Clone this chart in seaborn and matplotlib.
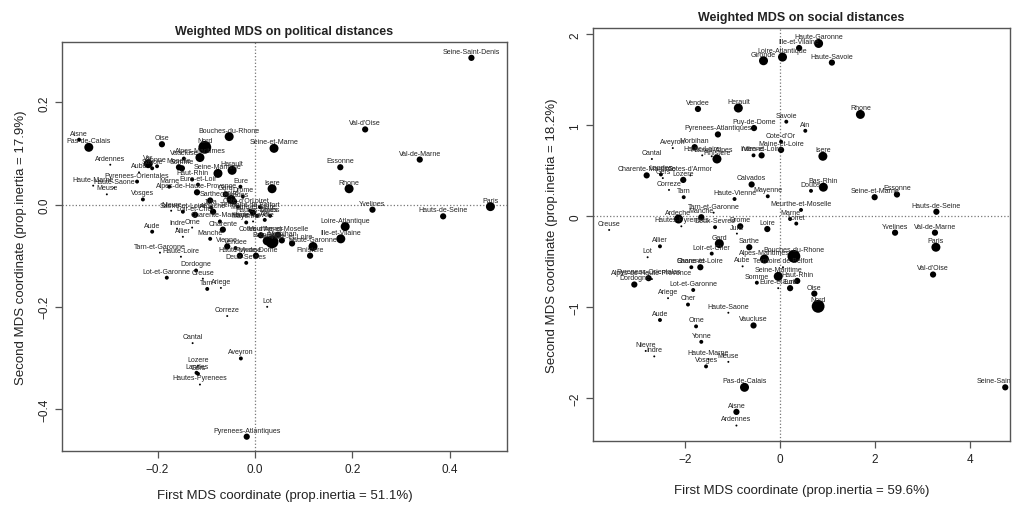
import matplotlib
matplotlib.use("Agg")
import matplotlib.pyplot as plt
import seaborn as sns
import pandas as pd

# Political distances MDS
pol_names = ["Aisne", "Pas-de-Calais", "Oise", "Bouches-du-Rhone", "Nord", "Alpes-Maritimes", "Vaucluse",
             "Ardennes", "Var", "Savoie", "Moselle", "Somme", "Aube", "Yonne", "Pyrenees-Orientales",
             "Haute-Marne", "Haute-Saone", "Meuse", "Vosges", "Marne", "Eure-et-Loir", "Haut-Rhin",
             "Seine-Maritime", "Herault", "Alpes-de-Haute-Provence", "Sarthe", "Loire", "Calvados", "Drome",
             "Cote-d'Or", "Loir-et-Cher", "Nievre", "Saone-et-Loire", "Ardeche", "Jura", "Indre", "Allier",
             "Orne", "Charente-Maritime", "Charente", "Manche", "Vienne", "Haute-Vienne", "Aude",
             "Tarn-et-Garonne", "Haute-Loire", "Dordogne", "Creuse", "Lot-et-Garonne", "Tarn", "Ariege",
             "Correze", "Lot", "Maine-et-Loire", "Hautes-Alpes", "Doubs", "Haute-Savoie", "Mayenne",
             "Deux-Sevres", "Vendee", "Bas-Rhin", "Gironde", "Cotes-d'Armor", "Morbihan", "Puy-de-Dome",
             "Meurthe-et-Moselle", "Indre-et-Loire", "Haute-Garonne", "Finistere", "Ille-et-Vilaine",
             "Loire-Atlantique", "Isere", "Seine-et-Marne", "Val-d'Oise", "Essonne", "Rhone", "Val-de-Marne",
             "Seine-Saint-Denis", "Paris", "Yvelines", "Hauts-de-Seine", "Cantal", "Lozere", "Landes", "Gers",
             "Hautes-Pyrenees", "Aveyron", "Pyrenees-Atlantiques", "Gard", "Loiret", "Ain",
             "Territoire de Belfort", "Eure"]
pol_x = [-0.361, -0.341, -0.191, -0.053, -0.103, -0.113, -0.146, -0.297, -0.219, -0.211, -0.156, -0.150,
         -0.238, -0.201, -0.242, -0.332, -0.289, -0.304, -0.230, -0.176, -0.117, -0.129, -0.076, -0.047,
         -0.119, -0.092, -0.049, -0.043, -0.025, -0.035, -0.123, -0.172, -0.148, -0.086, -0.090, -0.160,
         -0.148, -0.129, -0.072, -0.066, -0.092, -0.057, -0.031, -0.211, -0.195, -0.152, -0.121, -0.107,
         -0.181, -0.098, -0.070, -0.057, 0.025, -0.004, 0.004, 0.031, -0.004, -0.018, -0.018, -0.040,
         0.025, 0.035, 0.012, 0.055, 0.002, 0.047, 0.076, 0.119, 0.113, 0.176, 0.185, 0.035, 0.039, 0.226,
         0.175, 0.193, 0.338, 0.444, 0.483, 0.241, 0.386, -0.128, -0.117, -0.120, -0.117, -0.113, -0.029,
         -0.017, -0.060, 0.010, 0.020, -0.010, -0.030]
pol_y = [0.127, 0.112, 0.118, 0.133, 0.112, 0.092, 0.090, 0.078, 0.080, 0.071, 0.073, 0.071, 0.063, 0.075,
         0.045, 0.037, 0.033, 0.020, 0.010, 0.035, 0.039, 0.049, 0.061, 0.067, 0.024, 0.008, 0.010, 0.006,
         0.016, -0.004, -0.020, -0.012, -0.014, -0.014, -0.006, -0.047, -0.063, -0.045, -0.033, -0.049,
         -0.067, -0.082, -0.100, -0.053, -0.094, -0.102, -0.129, -0.145, -0.143, -0.165, -0.163, -0.218,
         -0.200, -0.016, -0.022, -0.022, -0.033, -0.035, -0.114, -0.085, -0.071, -0.073, -0.060, -0.070,
         -0.100, -0.059, -0.076, -0.082, -0.100, -0.067, -0.043, 0.031, 0.110, 0.147, 0.073, 0.031, 0.088,
         0.287, -0.004, -0.010, -0.023, -0.271, -0.315, -0.329, -0.331, -0.352, -0.301, -0.454, 0.020,
         -0.005, -0.030, -0.012, 0.035]
pol_w = [1, 3, 2, 3, 4, 3, 1, 0, 3, 1, 2, 2, 0, 1, 1, 0, 0, 0, 1, 1, 1, 1, 3, 3, 2, 2, 3, 2, 1, 1, 2, 0, 1,
         2, 1, 0, 0, 0, 1, 2, 1, 2, 2, 1, 0, 0, 1, 0, 1, 1, 0, 0, 0, 2, 1, 1, 0, 1, 1, 1, 3, 4, 2, 2, 2, 2,
         2, 3, 2, 3, 3, 3, 3, 2, 2, 3, 2, 2, 3, 2, 2, 0, 0, 1, 1, 0, 1, 2, 2, 1, 1, 1, 1]

# Social distances MDS
soc_names = ["Gironde", "Loire-Atlantique", "Ille-et-Vilaine", "Haute-Garonne", "Haute-Savoie", "Vendee",
             "Herault", "Savoie", "Ain", "Puy-de-Dome", "Pyrenees-Atlantiques", "Cote-d'Or", "Rhone",
             "Aveyron", "Morbihan", "Maine-et-Loire", "Haute-Loire", "Hautes-Alpes", "Finistere",
             "Indre-et-Loire", "Vienne", "Isere", "Cantal", "Charente-Maritime", "Landes", "Gers",
             "Cotes-d'Armor", "Lozere", "Correze", "Tarn", "Calvados", "Haute-Vienne", "Mayenne", "Bas-Rhin",
             "Doubs", "Seine-et-Marne", "Essonne", "Hauts-de-Seine", "Meurthe-et-Moselle", "Marne", "Loiret",
             "Yvelines", "Val-de-Marne", "Paris", "Val-d'Oise", "Tarn-et-Garonne", "Manche", "Ardeche",
             "Hautes-Pyrenees", "Deux-Sevres", "Drome", "Jura", "Loire", "Creuse", "Allier", "Gard",
             "Loir-et-Cher", "Sarthe", "Lot", "Alpes-Maritimes", "Bouches-du-Rhone", "Charente",
             "Saone-et-Loire", "Aube", "Territoire de Belfort", "Pyrenees-Orientales", "Dordogne",
             "Alpes-de-Haute-Provence", "Lot-et-Garonne", "Ariege", "Cher", "Somme", "Seine-Maritime",
             "Haut-Rhin", "Eure-et-Loir", "Eure", "Oise", "Nord", "Haute-Saone", "Aude", "Orne", "Vaucluse",
             "Yonne", "Nievre", "Indre", "Haute-Marne", "Meuse", "Vosges", "Pas-de-Calais", "Aisne",
             "Ardennes", "Seine-Saint-Denis"]
soc_x = [-0.35, 0.05, 0.40, 0.81, 1.09, -1.73, -0.88, 0.13, 0.53, -0.55, -1.31, 0.02, 1.69, -2.26, -1.80,
         0.02, -1.64, -1.44, -1.33, -0.39, -0.56, 0.90, -2.70, -2.81, -2.51, -2.47, -1.89, -2.04, -2.34,
         -2.03, -0.60, -0.96, -0.26, 0.91, 0.65, 1.99, 2.46, 3.29, 0.44, 0.21, 0.34, 2.42, 3.26, 3.28, 3.22,
         -1.40, -1.66, -2.14, -2.08, -1.37, -0.84, -0.91, -0.27, -3.60, -2.53, -1.28, -1.44, -0.65, -2.79,
         -0.33, 0.29, -1.87, -1.68, -0.79, 0.06, -2.77, -3.07, -2.70, -1.83, -2.36, -1.94, -0.49, -0.04,
         0.36, -0.04, 0.21, 0.72, 0.80, -1.09, -2.53, -1.77, -0.56, -1.66, -2.83, -2.65, -1.51, -1.09,
         -1.56, -0.75, -0.92, -0.92, 4.74]
soc_y = [1.71, 1.75, 1.85, 1.90, 1.69, 1.18, 1.19, 1.04, 0.94, 0.97, 0.90, 0.82, 1.12, 0.75, 0.76, 0.73,
         0.67, 0.66, 0.63, 0.67, 0.67, 0.66, 0.63, 0.45, 0.46, 0.42, 0.45, 0.40, 0.29, 0.21, 0.35, 0.19,
         0.22, 0.32, 0.28, 0.21, 0.24, 0.05, 0.07, -0.03, -0.08, -0.18, -0.18, -0.34, -0.64, 0.04, -0.01,
         -0.03, -0.11, -0.12, -0.11, -0.19, -0.14, -0.15, -0.33, -0.30, -0.41, -0.34, -0.45, -0.47, -0.44,
         -0.56, -0.56, -0.55, -0.56, -0.68, -0.75, -0.69, -0.81, -0.90, -0.97, -0.73, -0.66, -0.71, -0.79,
         -0.79, -0.85, -0.99, -1.06, -1.14, -1.21, -1.20, -1.38, -1.48, -1.54, -1.57, -1.60, -1.65, -1.88,
         -2.15, -2.30, -1.88]
soc_w = [3, 3, 2, 3, 2, 2, 3, 1, 1, 2, 2, 1, 3, 0, 2, 2, 0, 0, 3, 2, 1, 3, 0, 2, 1, 0, 0, 2, 0, 1, 2, 1, 1,
         3, 1, 2, 2, 2, 1, 1, 1, 2, 2, 3, 2, 0, 2, 3, 0, 1, 2, 0, 2, 0, 1, 3, 1, 2, 0, 3, 4, 1, 2, 0, 0, 2,
         2, 0, 1, 0, 1, 1, 3, 2, 0, 2, 2, 4, 0, 1, 1, 2, 1, 0, 0, 0, 0, 1, 3, 2, 0, 2]

sns.set_style("ticks")
plt.rcParams["font.family"] = ["Liberation Sans", "DejaVu Sans"]

point_sizes = {0: 2, 1: 8, 2: 20, 3: 42, 4: 85}
box_col = "#555555"


def draw_panel(ax, names, xs, ys, ws, title, xlab, ylab, xpad):
    df = pd.DataFrame({"x": xs, "y": ys, "w": ws})
    sns.scatterplot(data=df, x="x", y="y", size="w", sizes=point_sizes, color="black",
                    edgecolor="none", legend=False, ax=ax, zorder=3)
    ax.axhline(0, ls=":", color="#777777", lw=0.9, zorder=1)
    ax.axvline(0, ls=":", color="#777777", lw=0.9, zorder=1)
    for n, x, y in zip(names, xs, ys):
        ax.annotate(n, (x, y), xytext=(0, 2.2), textcoords="offset points", ha="center", va="bottom",
                    fontsize=5.0, color="#222222", clip_on=True, annotation_clip=True)
    for sp in ax.spines.values():
        sp.set_visible(True)
        sp.set_color(box_col)
        sp.set_linewidth(1.0)
    ax.tick_params(colors=box_col, labelcolor="#222222", labelsize=8.5, length=5, width=0.9)
    plt.setp(ax.get_yticklabels(), rotation=90, va="center")
    ax.set_title(title, fontsize=9, fontweight="bold", color="#222222")
    ax.set_xlabel(xlab, fontsize=9.5, color="#222222", labelpad=xpad)
    ax.set_ylabel(ylab, fontsize=9.5, color="#222222", labelpad=8)


fig = plt.figure(figsize=(10.22, 5.06), dpi=100)

ax1 = fig.add_axes([62 / 1022, 54 / 506, 445 / 1022, 409 / 506])
ax1.set_xlim(-0.396, 0.517)
ax1.set_ylim(-0.482, 0.318)
ax1.set_xticks([-0.2, 0.0, 0.2, 0.4])
ax1.set_xticklabels(["\u22120.2", "0.0", "0.2", "0.4"])
ax1.set_yticks([-0.4, -0.2, 0.0, 0.2])
ax1.set_yticklabels(["\u22120.4", "\u22120.2", "0.0", "0.2"])
draw_panel(ax1, pol_names, pol_x, pol_y, pol_w, "Weighted MDS on political distances",
           "First MDS coordinate (prop.inertia = 51.1%)", "Second MDS coordinate (prop.inertia = 17.9%)", 10)

ax2 = fig.add_axes([593 / 1022, 64 / 506, 417 / 1022, 413 / 506])
ax2.set_xlim(-3.94, 4.84)
ax2.set_ylim(-2.47, 2.07)
ax2.set_xticks([-2, 0, 2, 4])
ax2.set_xticklabels(["\u22122", "0", "2", "4"])
ax2.set_yticks([-2, -1, 0, 1, 2])
ax2.set_yticklabels(["\u22122", "\u22121", "0", "1", "2"])
draw_panel(ax2, soc_names, soc_x, soc_y, soc_w, "Weighted MDS on social distances",
           "First MDS coordinate (prop.inertia = 59.6%)", "Second MDS coordinate (prop.inertia = 18.2%)", 14)

fig.savefig("out.png", dpi=100)
